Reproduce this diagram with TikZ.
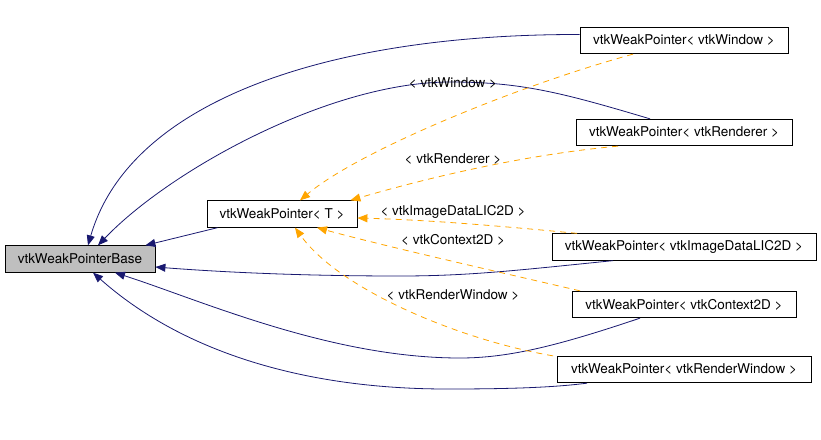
\documentclass[tikz,border=0pt]{standalone}
\usepackage{fontspec}
\setmainfont{TeX Gyre Heros}
\usetikzlibrary{arrows.meta}
\definecolor{edgeblue}{RGB}{25,25,112}
\definecolor{edgeorange}{RGB}{255,165,0}
\definecolor{basegrey}{RGB}{191,191,191}
\begin{document}
\begin{tikzpicture}[x=1pt,y=-1pt,
    font=\fontsize{13.5}{15}\selectfont,
    classbox/.style={draw=black,line width=0.8pt,inner sep=0pt,minimum height=26.5pt},
    inherit/.style={draw=edgeblue,line width=0.8pt,-{Triangle[length=10pt,width=8pt]}},
    templ/.style={draw=edgeorange,line width=0.8pt,dash pattern=on 6pt off 5pt,
        -{Triangle[length=10pt,width=8pt,fill=edgeorange]}}]
    \useasboundingbox (0,0) rectangle (821,439);

    % Draw the classes
    \node[classbox,fill=basegrey,minimum width=150pt] (base) at (80,259) {vtkWeakPointerBase};
    \node[classbox,minimum width=150pt] (tmpl) at (282,214) {vtkWeakPointer< T >};
    \node[classbox,minimum width=208pt] (win) at (684,40.5) {vtkWeakPointer< vtkWindow >};
    \node[classbox,minimum width=216pt] (ren) at (684,132.5) {vtkWeakPointer< vtkRenderer >};
    \node[classbox,minimum width=264pt] (lic) at (684,247) {vtkWeakPointer< vtkImageDataLIC2D >};
    \node[classbox,minimum width=224pt] (ctx) at (684,304.5) {vtkWeakPointer< vtkContext2D >};
    \node[classbox,minimum width=254pt] (rwin) at (684,369.5) {vtkWeakPointer< vtkRenderWindow >};

    % Inheritance from the base class
    \draw[inherit] ([yshift=6pt]win.west) .. controls (330,34) and (130,100) .. ([xshift=8pt]base.north);
    \draw[inherit] ([xshift=-34pt]ren.north) .. controls (560,92) and (520,82) .. (450,82)
        .. controls (330,82) and (170,170) .. ([xshift=18pt]base.north);
    \draw[inherit] ([xshift=11pt]tmpl.south west) -- ([xshift=-10pt]base.north east);
    \draw[inherit] ([xshift=-71pt]lic.south) .. controls (520,270) and (470,276) .. (400,276)
        .. controls (300,276) and (220,272) .. ([yshift=-8pt]base.east);
    \draw[inherit] ([xshift=-44pt]ctx.south) .. controls (560,345) and (510,358) .. (460,358)
        .. controls (330,358) and (200,300) .. ([xshift=35pt]base.south);
    \draw[inherit] ([xshift=-97pt]rwin.south) .. controls (550,388) and (500,389) .. (447,389)
        .. controls (300,389) and (180,350) .. ([xshift=13pt]base.south);

    % Template instances
    \draw[templ] ([xshift=-51pt]win.south) .. controls (520,85) and (360,150) .. ([xshift=18pt]tmpl.north);
    \draw[templ] ([xshift=-66pt]ren.south) .. controls (520,155) and (420,180) .. ([xshift=-7pt]tmpl.north east);
    \draw[templ] ([xshift=-107pt]lic.north) .. controls (500,226) and (430,220) .. ([yshift=-4pt]tmpl.east);
    \draw[templ] ([xshift=-104pt]ctx.north) .. controls (490,270) and (380,245) .. ([xshift=35pt]tmpl.south);
    \draw[templ] ([xshift=-131pt]rwin.north) .. controls (460,340) and (340,290) .. ([xshift=13pt]tmpl.south);

    % Labels for the template arguments
    \node (lwin) at (453,83) {< vtkWindow >};
    \node (lren) at (453,159) {< vtkRenderer >};
    \node (llic) at (453,212) {< vtkImageDataLIC2D >};
    \node (lctx) at (453,240) {< vtkContext2D >};
    \node (lrwin) at (453,295) {< vtkRenderWindow >};
\end{tikzpicture}
\end{document}
